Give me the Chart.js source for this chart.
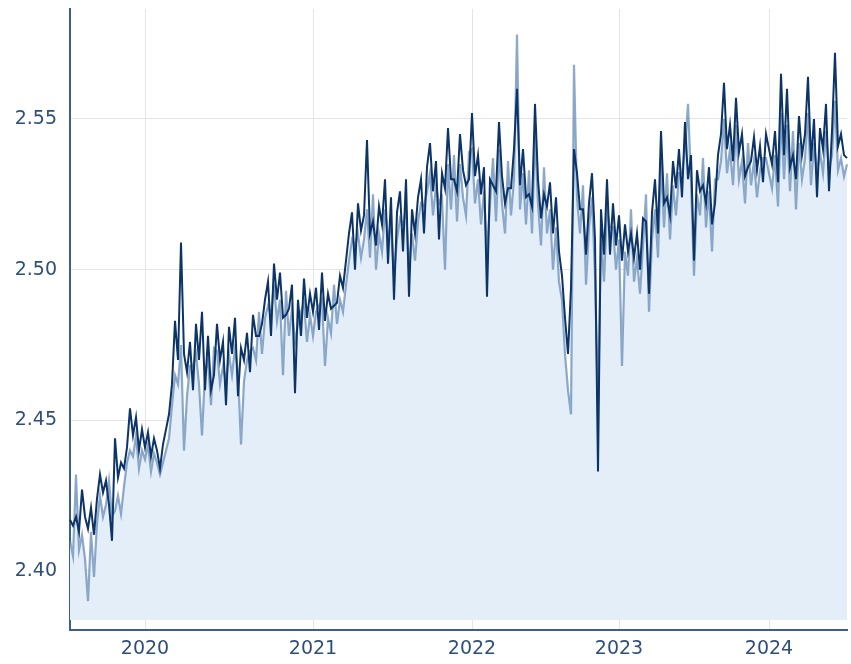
<!DOCTYPE html>
<html>
<head>
<meta charset="utf-8">
<script src="https://cdn.jsdelivr.net/npm/chart.js@4.4.1/dist/chart.umd.min.js"></script>
<style>
  html, body { margin: 0; padding: 0; background: #fff; }
  #wrap { width: 851px; height: 664px; position: relative; }
</style>
</head>
<body>
<div id="wrap"><canvas id="grafico"></canvas></div>
<script>
// puntos por año (el eje x es por índice, no por calendario)
const anios = ['2019', '2020', '2021', '2022', '2023', '2024'];
const puntosPorAnio = [25, 56, 53, 49, 50, 27];

// serie oscura
const serieOscura = [
  2.417, 2.415, 2.418, 2.413, 2.427, 2.418, 2.414, 2.421, 2.412, 2.424,
  2.432, 2.426, 2.430, 2.422, 2.410, 2.444, 2.431, 2.436, 2.434, 2.441,
  2.454, 2.445, 2.451, 2.440, 2.447, 2.441, 2.446, 2.438, 2.444, 2.440,
  2.434, 2.442, 2.447, 2.452, 2.462, 2.483, 2.470, 2.509, 2.472, 2.466,
  2.476, 2.460, 2.482, 2.470, 2.486, 2.460, 2.478, 2.460, 2.465, 2.482,
  2.470, 2.476, 2.455, 2.481, 2.472, 2.484, 2.458, 2.474, 2.470, 2.479,
  2.466, 2.485, 2.478, 2.478, 2.482, 2.490, 2.496, 2.478, 2.502, 2.490,
  2.499, 2.484, 2.485, 2.487, 2.495, 2.459, 2.490, 2.478, 2.497, 2.484,
  2.492, 2.486, 2.494, 2.480, 2.499, 2.483, 2.492, 2.487, 2.488, 2.489,
  2.498, 2.494, 2.503, 2.512, 2.519, 2.500, 2.522, 2.513, 2.518, 2.543,
  2.512, 2.516, 2.508, 2.521, 2.515, 2.530, 2.502, 2.524, 2.490, 2.519,
  2.526, 2.506, 2.530, 2.491, 2.520, 2.512, 2.524, 2.530, 2.512, 2.534,
  2.542, 2.526, 2.536, 2.510, 2.532, 2.527, 2.547, 2.530, 2.530, 2.526,
  2.545, 2.533, 2.528, 2.530, 2.552, 2.531, 2.538, 2.525, 2.534, 2.491,
  2.530, 2.528, 2.526, 2.549, 2.531, 2.522, 2.527, 2.527, 2.540, 2.560,
  2.528, 2.540, 2.524, 2.525, 2.521, 2.555, 2.530, 2.517, 2.525, 2.521,
  2.529, 2.512, 2.524, 2.506, 2.498, 2.484, 2.472, 2.494, 2.540, 2.532,
  2.520, 2.520, 2.505, 2.522, 2.532, 2.510, 2.433, 2.520, 2.505, 2.530,
  2.505, 2.522, 2.508, 2.518, 2.503, 2.515, 2.506, 2.512, 2.504, 2.512,
  2.500, 2.517, 2.516, 2.492, 2.519, 2.530, 2.512, 2.546, 2.522, 2.524,
  2.518, 2.536, 2.527, 2.540, 2.524, 2.549, 2.530, 2.538, 2.503, 2.533,
  2.526, 2.528, 2.522, 2.534, 2.515, 2.522, 2.538, 2.545, 2.562, 2.540,
  2.548, 2.536, 2.557, 2.539, 2.545, 2.531, 2.534, 2.536, 2.544, 2.533,
  2.541, 2.529, 2.545, 2.540, 2.535, 2.546, 2.529, 2.565, 2.538, 2.560,
  2.534, 2.538, 2.530, 2.551, 2.538, 2.545, 2.564, 2.536, 2.550, 2.524,
  2.547, 2.540, 2.555, 2.526, 2.546, 2.572, 2.541, 2.545, 2.538, 2.537
];

// serie clara (con relleno)
const serieClara = [
  2.410, 2.405, 2.432, 2.407, 2.412, 2.404, 2.390, 2.413, 2.398, 2.416,
  2.425, 2.418, 2.422, 2.430, 2.418, 2.420, 2.425, 2.419, 2.428, 2.436,
  2.440, 2.438, 2.445, 2.434, 2.440, 2.437, 2.442, 2.433, 2.439, 2.436,
  2.432, 2.436, 2.440, 2.444, 2.455, 2.465, 2.462, 2.475, 2.440, 2.458,
  2.468, 2.468, 2.472, 2.462, 2.445, 2.466, 2.470, 2.455, 2.474, 2.473,
  2.462, 2.468, 2.463, 2.472, 2.465, 2.474, 2.466, 2.442, 2.463, 2.470,
  2.473, 2.474, 2.470, 2.486, 2.472, 2.484, 2.488, 2.485, 2.495, 2.483,
  2.490, 2.465, 2.493, 2.478, 2.487, 2.476, 2.482, 2.486, 2.489, 2.476,
  2.485, 2.478, 2.486, 2.488, 2.490, 2.468, 2.484, 2.479, 2.495, 2.482,
  2.490, 2.486, 2.495, 2.503, 2.510, 2.508, 2.512, 2.504, 2.510, 2.520,
  2.504, 2.525, 2.500, 2.512, 2.506, 2.520, 2.511, 2.514, 2.498, 2.510,
  2.517, 2.515, 2.520, 2.500, 2.512, 2.503, 2.516, 2.522, 2.521, 2.526,
  2.532, 2.518, 2.528, 2.522, 2.524, 2.500, 2.535, 2.520, 2.538, 2.516,
  2.535, 2.524, 2.518, 2.539, 2.540, 2.522, 2.530, 2.515, 2.526, 2.505,
  2.522, 2.537, 2.516, 2.540, 2.522, 2.512, 2.536, 2.518, 2.530, 2.578,
  2.520, 2.532, 2.515, 2.533, 2.512, 2.545, 2.522, 2.508, 2.534, 2.512,
  2.520, 2.500, 2.514, 2.496, 2.490, 2.472, 2.460, 2.452, 2.568, 2.524,
  2.512, 2.528, 2.495, 2.514, 2.524, 2.498, 2.455, 2.512, 2.496, 2.520,
  2.514, 2.514, 2.500, 2.510, 2.468, 2.506, 2.498, 2.520, 2.496, 2.504,
  2.492, 2.508, 2.525, 2.486, 2.510, 2.520, 2.504, 2.536, 2.514, 2.532,
  2.510, 2.528, 2.518, 2.532, 2.532, 2.540, 2.555, 2.530, 2.498, 2.525,
  2.518, 2.537, 2.514, 2.526, 2.506, 2.530, 2.530, 2.536, 2.550, 2.532,
  2.540, 2.528, 2.548, 2.530, 2.536, 2.522, 2.542, 2.528, 2.536, 2.524,
  2.533, 2.537, 2.537, 2.532, 2.527, 2.538, 2.521, 2.552, 2.530, 2.548,
  2.526, 2.546, 2.520, 2.542, 2.530, 2.537, 2.552, 2.528, 2.542, 2.532,
  2.539, 2.532, 2.546, 2.533, 2.538, 2.556, 2.533, 2.537, 2.531, 2.535
];

// etiquetas del eje y
const ticksY = [2.40, 2.45, 2.50, 2.55];
const minY = 2.3804, maxY = 2.5865, baseRelleno = 2.3837;

// categorías: una etiqueta de año por punto
const etiquetas = [];
anios.forEach((a, k) => { for (let j = 0; j < puntosPorAnio[k]; j++) etiquetas.push(a); });

const esInicioAnio = i => i > 0 && etiquetas[i] !== etiquetas[i - 1];
const colorTexto = '#2d4f78';
const fuente = { family: 'DejaVu Sans', size: 19 };

new Chart(document.getElementById('grafico'), {
    type: 'line',
    data: {
        labels: etiquetas,
        datasets: [{
            data: serieOscura,
            borderColor: '#0c3466',
            borderWidth: 2,
            pointRadius: 0,
            tension: 0,
            fill: false
        }, {
            data: serieClara,
            borderColor: 'rgba(70,115,165,0.6)',
            borderWidth: 2.2,
            pointRadius: 0,
            tension: 0,
            backgroundColor: '#e3eef9',
            fill: { value: baseRelleno }
        }]
    },
    options: {
        responsive: true,
        maintainAspectRatio: false,
        animation: false,
        layout: { padding: { top: 9, right: 4, left: 0, bottom: 0 } },
        plugins: { legend: { display: false }, tooltip: { enabled: false } },
        scales: {
            x: {
                type: 'category',
                offset: false,
                afterFit: s => { s.height = 34; s.paddingLeft = 0; s.paddingRight = 0; },
                border: { color: '#3b5f8c', width: 2 },
                grid: {
                    drawTicks: false,
                    color: c => esInicioAnio(c.index) ? '#e4e4e4' : 'rgba(0,0,0,0)'
                },
                ticks: {
                    autoSkip: false,
                    maxRotation: 0,
                    padding: 8,
                    color: colorTexto,
                    font: fuente,
                    callback: (v, i) => esInicioAnio(i) ? etiquetas[i] : ''
                }
            },
            y: {
                min: minY,
                max: maxY,
                afterFit: s => { s.width = 70; s.paddingTop = 0; s.paddingBottom = 0; },
                afterBuildTicks: s => { s.ticks = ticksY.map(v => ({ value: v })); },
                border: { color: '#3b5f8c', width: 2 },
                grid: { drawTicks: false, color: '#e4e4e4' },
                ticks: {
                    padding: 13,
                    color: colorTexto,
                    font: fuente,
                    callback: v => v.toFixed(2)
                }
            }
        }
    }
});
</script>
</body>
</html>
